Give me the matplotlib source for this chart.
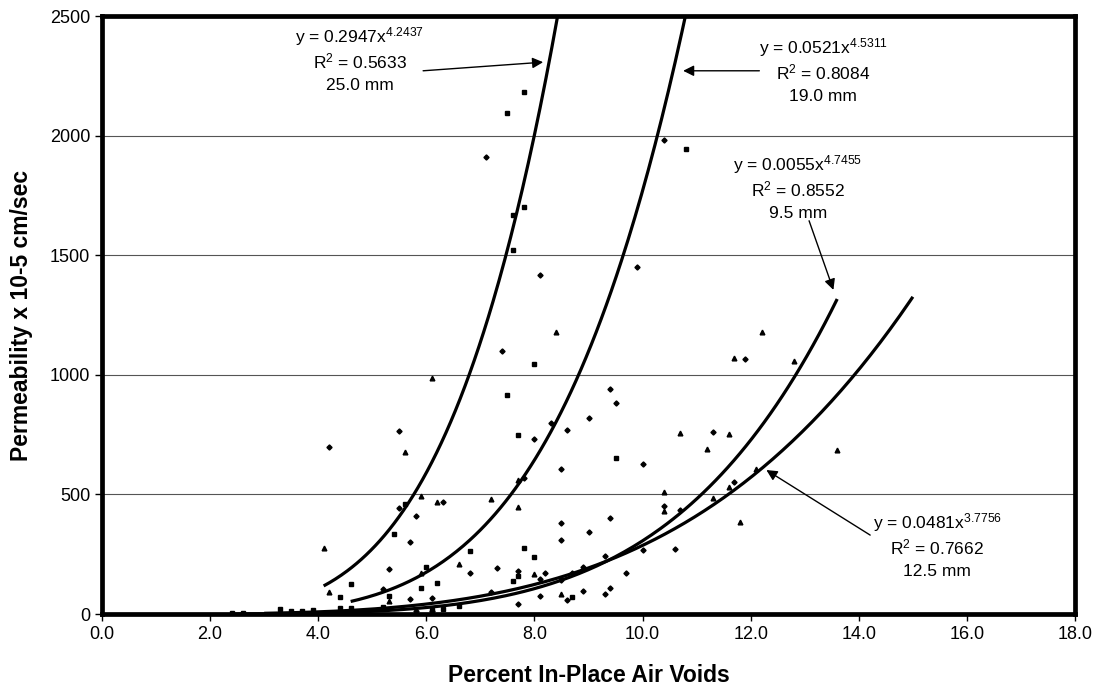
import numpy as np
import matplotlib
matplotlib.use('Agg')
import matplotlib.pyplot as plt

plt.rcParams['font.family'] = ['Liberation Sans', 'DejaVu Sans']
plt.rcParams['mathtext.fontset'] = 'custom'
plt.rcParams['mathtext.rm'] = 'Liberation Sans'
plt.rcParams['mathtext.it'] = 'Liberation Sans'

# scatter points (air voids %, permeability)
sq_x = [7.8, 7.5, 10.8, 7.8, 7.6, 7.6, 8.0, 7.5, 7.7, 9.5, 5.6, 5.4, 6.8, 7.8, 8.0, 6.0, 7.7, 7.6,
        6.2, 4.6, 5.9, 5.3, 4.4, 8.7, 6.6, 5.2, 3.3, 3.5, 3.7, 3.9, 4.4, 4.6, 6.3, 6.1, 2.6, 2.4]
sq_y = [2182, 2096, 1945, 1703, 1668, 1523, 1045, 917, 748, 654, 460, 334, 265, 275, 237, 198, 160, 139,
        128, 124, 107, 77, 72, 73, 33, 31, 21, 13, 13, 17, 24, 24, 20, 15, 5, 3]

tri_x = [6.1, 8.4, 12.2, 11.7, 12.8, 10.7, 11.6, 11.2, 13.6, 5.6, 12.1, 7.7, 11.6, 10.4, 5.9, 11.3,
         7.2, 6.2, 7.7, 10.4, 11.8, 4.1, 6.6, 5.9, 8.0, 4.2, 8.5, 5.3]
tri_y = [988, 1178, 1178, 1072, 1058, 757, 752, 690, 686, 676, 607, 560, 530, 511, 495, 483,
         480, 467, 447, 432, 386, 276, 209, 170, 167, 93, 82, 54]

dia_x = [7.1, 10.4, 9.9, 8.1, 7.4, 9.4, 9.5, 9.0, 8.3, 8.6, 5.5, 8.0, 11.3, 4.2, 11.9, 10.0, 8.5, 7.8,
         11.7, 6.3, 10.4, 5.5, 10.7, 5.8, 9.4, 8.5, 9.0, 8.5, 5.7, 10.6, 10.0, 9.3, 7.3, 8.9, 5.3, 7.7,
         6.8, 9.7, 8.2, 8.7, 8.1, 8.5, 9.4, 5.2, 8.9, 7.2, 9.3, 8.1, 6.1, 5.7, 8.6, 7.7, 5.8, 6.1]
dia_y = [1912, 1980, 1451, 1417, 1098, 942, 882, 819, 800, 768, 764, 733, 761, 697, 1067, 627, 605, 567,
         552, 468, 451, 443, 435, 410, 400, 379, 341, 309, 302, 272, 268, 243, 194, 196, 189, 180,
         172, 170, 170, 170, 145, 142, 108, 104, 97, 93, 84, 75, 68, 62, 58, 40, 14, 14]

# power trendlines y = a * x^b
fit_labels = ['25.0 mm', '19.0 mm', '9.5 mm', '12.5 mm']
fit_a = [0.2947, 0.0521, 0.0055, 0.0481]
fit_b = [4.2437, 4.5311, 4.7455, 3.7756]
fit_r2 = [0.5633, 0.8084, 0.8552, 0.7662]
fit_xmin = [4.1, 4.6, 2.4, 3.0]
fit_xmax = [8.43, 10.79, 13.6, 15.0]

# text centre and arrow (tail -> head) for each trendline label
label_pos = [(4.77, 2416), (13.34, 2370), (12.87, 1881), (15.45, 385)]
arrows = [((5.94, 2271), (8.16, 2307)),
          ((12.16, 2271), (10.75, 2271)),
          ((13.08, 1644), (13.53, 1355)),
          ((14.21, 330), (12.29, 602))]

fig = plt.figure(figsize=(10.98, 6.90), dpi=100)
ax = fig.add_axes([0.0929, 0.1101, 0.8862, 0.8667])

ax.grid(axis='y', color='#555555', linewidth=0.8)
ax.set_axisbelow(True)

ax.plot(dia_x, dia_y, linestyle='none', marker='D', markersize=2.6, color='black')
ax.plot(sq_x, sq_y, linestyle='none', marker='s', markersize=3.0, color='black')
ax.plot(tri_x, tri_y, linestyle='none', marker='^', markersize=3.4, color='black')

for a, b, x0, x1 in zip(fit_a, fit_b, fit_xmin, fit_xmax):
    xs = np.linspace(x0, x1, 200)
    ax.plot(xs, a * xs ** b, color='black', linewidth=2.3, solid_capstyle='butt')

line_gap = 100  # data units between text lines
for lab, a, b, r2, (cx, cy), (tail, head) in zip(fit_labels, fit_a, fit_b, fit_r2, label_pos, arrows):
    base = cy - 27
    ax.text(cx, base, 'y = %.4fx$^{%.4f}$' % (a, b), ha='center', va='baseline', fontsize=12.5)
    ax.text(cx, base - 1.07 * line_gap, 'R$^2$ = %.4f' % r2, ha='center', va='baseline', fontsize=12.5)
    ax.text(cx, base - 2.0 * line_gap, lab, ha='center', va='baseline', fontsize=12.5)
    ax.annotate('', xy=head, xytext=tail,
                arrowprops=dict(arrowstyle='-|>', color='black', lw=1.0,
                                mutation_scale=16, shrinkA=0, shrinkB=0))

ax.set_xlim(0, 18)
ax.set_ylim(0, 2500)
ax.set_xticks(np.arange(0, 18.1, 2.0))
ax.set_xticklabels(['%.1f' % v for v in np.arange(0, 18.1, 2.0)])
ax.set_yticks(np.arange(0, 2501, 500))
ax.tick_params(axis='both', labelsize=13, length=5, width=1, direction='out')

for s in ax.spines.values():
    s.set_linewidth(3.4)

ax.set_xlabel('Percent In-Place Air Voids', fontsize=16.5, fontweight='bold', labelpad=15)
ax.set_ylabel('Permeability x 10-5 cm/sec', fontsize=16.5, fontweight='bold', labelpad=12)

fig.savefig('out.png', dpi=100)
